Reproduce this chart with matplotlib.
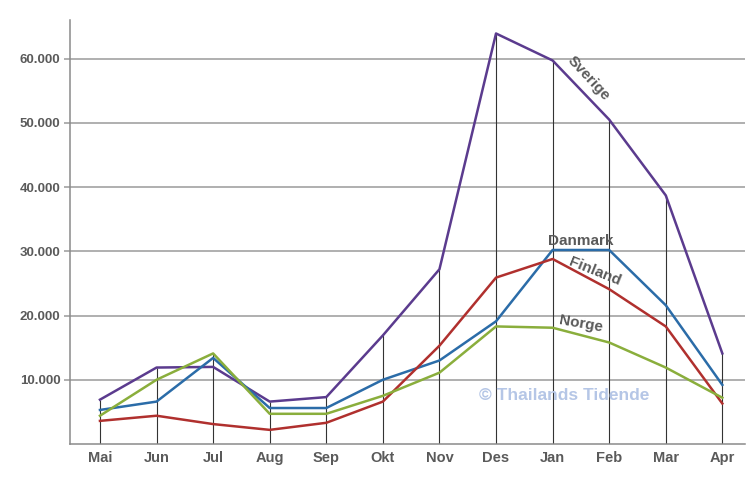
import numpy as np
import matplotlib.pyplot as plt
from matplotlib.ticker import FuncFormatter

plt.rcParams["font.family"] = ["Liberation Sans", "DejaVu Sans"]

# Months and visitor counts per country
months = ["Mai", "Jun", "Jul", "Aug", "Sep", "Okt", "Nov", "Des", "Jan", "Feb", "Mar", "Apr"]
sverige = [6900, 11900, 12000, 6600, 7300, 16900, 27200, 63900, 59700, 50500, 38700, 14100]
danmark = [5300, 6600, 13400, 5600, 5600, 10000, 13000, 19100, 30200, 30200, 21600, 9200]
finland = [3600, 4400, 3100, 2200, 3300, 6600, 15300, 25900, 28800, 24100, 18300, 6300]
norge = [4400, 10000, 14100, 4700, 4700, 7500, 11100, 18300, 18100, 15800, 11900, 7200]

x = np.arange(len(months))
label_color = "#5a5a5a"

fig = plt.figure(figsize=(7.5, 5), dpi=100)
ax = fig.add_axes([0.0933, 0.112, 0.9, 0.848])

# grid lines
for v in range(10000, 70000, 10000):
    ax.axhline(v, color="#9a9a9a", lw=1.1, zorder=1)

# drop lines from the highest point
tops = np.max([sverige, danmark, finland, norge], axis=0)
ax.vlines(x, 0, tops, color="#333333", lw=0.8, zorder=2)

ax.plot(x, sverige, color="#5b3b8e", lw=1.8, zorder=3)
ax.plot(x, danmark, color="#2b6ca8", lw=1.8, zorder=3)
ax.plot(x, finland, color="#b0302e", lw=1.8, zorder=3)
ax.plot(x, norge, color="#8aae3c", lw=1.8, zorder=3)

# series labels
ax.text(8.64, 56900, "Sverige", rotation=-47, color=label_color, fontsize=11,
        fontweight="bold", ha="center", va="center", zorder=4)
ax.text(8.5, 31600, "Danmark", color=label_color, fontsize=11,
        fontweight="bold", ha="center", va="center", zorder=4)
ax.text(8.75, 26800, "Finland", rotation=-22, color=label_color, fontsize=11,
        fontweight="bold", ha="center", va="center", zorder=4)
ax.text(8.5, 18700, "Norge", rotation=-10, color=label_color, fontsize=11,
        fontweight="bold", ha="center", va="center", zorder=4)

ax.text(8.2, 7500, "© Thailands Tidende", color="#b5c6e6", fontsize=12.5,
        fontweight="bold", ha="center", va="center", zorder=2)

ax.set_xlim(-0.53, 11.4)
ax.set_ylim(0, 66000)
ax.set_xticks(x)
ax.set_xticklabels(months)
ax.set_yticks(range(10000, 70000, 10000))
ax.yaxis.set_major_formatter(FuncFormatter(lambda v, p: f"{int(v):,}".replace(",", ".")))

for s in ["top", "right"]:
    ax.spines[s].set_visible(False)
for s in ["left", "bottom"]:
    ax.spines[s].set_color("#8a8a8a")
    ax.spines[s].set_linewidth(1.1)

ax.tick_params(axis="x", length=0, pad=5, labelcolor=label_color, labelsize=10.5)
ax.tick_params(axis="y", length=4, color="#9a9a9a", width=1.1, pad=3,
               labelcolor=label_color, labelsize=9.5)
for t in ax.get_xticklabels() + ax.get_yticklabels():
    t.set_fontweight("bold")

fig.savefig("out.png", dpi=100)
